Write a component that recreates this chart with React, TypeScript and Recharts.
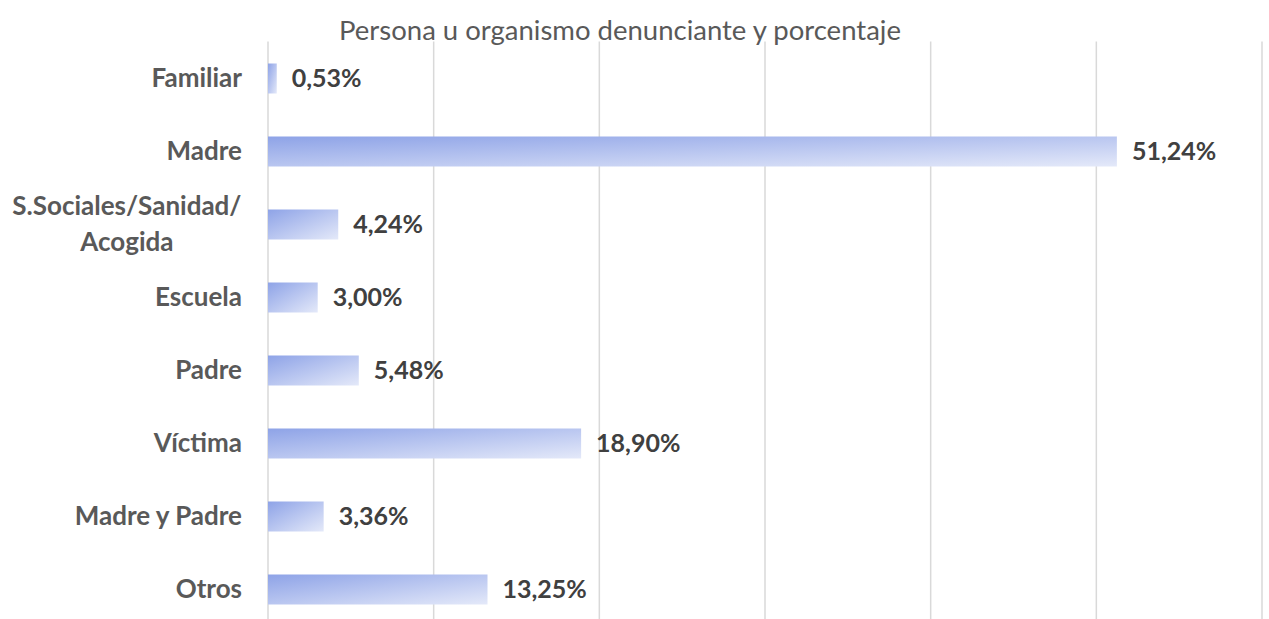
import React from 'react';
import { BarChart, Bar, XAxis, YAxis, CartesianGrid, LabelList } from 'recharts';

const categories = ['Familiar', 'Madre', 'S.Sociales/Sanidad/\nAcogida', 'Escuela', 'Padre', 'Víctima', 'Madre y Padre', 'Otros'];
const values = [0.53, 51.24, 4.24, 3.0, 5.48, 18.9, 3.36, 13.25];
const xTicks = [0, 10, 20, 30, 40, 50, 60];
const title = 'Persona u organismo denunciante y porcentaje';

const data = categories.map((c, i) => ({ name: c, value: values[i] }));

const FONT = 'Lato, "Open Sans", sans-serif';
const LABEL_SIZE = 26;

const CategoryTick = (props: any) => {
  const { x, y, payload } = props;
  const lines: string[] = String(payload.value).split('\n');
  if (lines.length === 1) {
    return (
      <text x={x} y={y} dy="0.35em" textAnchor="end" fontFamily={FONT} fontWeight={700} fontSize={LABEL_SIZE} fill="#595959">
        {lines[0]}
      </text>
    );
  }
  const longest = Math.max(...lines.map((l) => l.length));
  const half = (longest * LABEL_SIZE * 0.466) / 2;
  const lh = 36;
  const start = -((lines.length - 1) * lh) / 2;
  return (
    <text x={x - half} y={y} textAnchor="middle" fontFamily={FONT} fontWeight={700} fontSize={LABEL_SIZE} fill="#595959">
      {lines.map((l, i) => (
        <tspan key={i} x={x - half} dy={i === 0 ? start + 9 : lh}>{l}</tspan>
      ))}
    </text>
  );
};

const fmt = (v: any) => Number(v).toFixed(2).replace('.', ',') + '%';

export default function App() {
  return (
    <div style={{ position: 'absolute', left: 0, top: 0, width: 1269, height: 619, overflow: 'hidden', background: '#fff' }}>
      <div style={{ position: 'absolute', left: 0, top: 14, width: 1240, textAlign: 'center', fontFamily: FONT, fontSize: 27.5, color: '#595959', lineHeight: '32px' }}>
        {title}
      </div>
      <BarChart
        width={1269}
        height={650}
        data={data}
        layout="vertical"
        margin={{ top: 41.5, right: 7, bottom: 24.5, left: 0 }}
        barSize={30}
      >
        <defs>
          <linearGradient id="barGrad" x1="0" y1="0" x2="1" y2="1">
            <stop offset="0%" stopColor="#8ea3e7" />
            <stop offset="100%" stopColor="#e4e9f9" />
          </linearGradient>
        </defs>
        <CartesianGrid horizontal={false} stroke="#d9d9d9" strokeWidth={1.5} />
        <XAxis type="number" domain={[0, 60]} ticks={xTicks} hide />
        <YAxis
          type="category"
          dataKey="name"
          width={268}
          axisLine={false}
          tickLine={false}
          tickMargin={20}
          tick={<CategoryTick />}
          interval={0}
        />
        <Bar dataKey="value" fill="url(#barGrad)" isAnimationActive={false}>
          <LabelList
            dataKey="value"
            position="right"
            offset={15}
            formatter={fmt}
            style={{ fontFamily: FONT, fontWeight: 700, fontSize: 25, fill: '#404040' }}
          />
        </Bar>
      </BarChart>
    </div>
  );
}
